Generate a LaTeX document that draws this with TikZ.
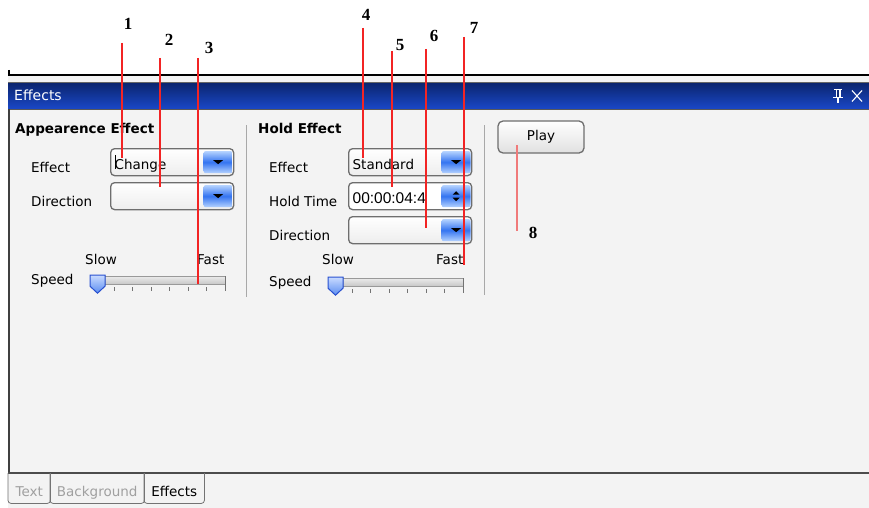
\documentclass[tikz,border=0pt]{standalone}
\usepackage{fontspec}
\setmainfont{DejaVu Sans}
\newfontfamily\callfont{Liberation Serif}
\newfontfamily\spinfont{Liberation Sans}
\usetikzlibrary{positioning,calc}

\definecolor{panelbg}{HTML}{F3F3F3}
\definecolor{barTop}{HTML}{0B2570}
\definecolor{barBot}{HTML}{1A48C8}
\definecolor{boxline}{HTML}{6E6E6E}
\definecolor{btnblue}{HTML}{3474F0}
\definecolor{btnlight}{HTML}{B4D2FF}
\definecolor{thumbTop}{HTML}{C8DAFF}
\definecolor{thumbBot}{HTML}{5A8CF0}
\definecolor{thumbLine}{HTML}{2850D0}
\definecolor{callred}{HTML}{F22424}
\definecolor{callpink}{HTML}{F07A7A}
\definecolor{tabgray}{HTML}{A0A0A0}
\definecolor{sepgray}{HTML}{A8A8A8}

\newcommand{\uifont}{\fontsize{13.5}{15}\selectfont}
\newcommand{\headfont}{\fontsize{13.5}{15}\selectfont\bfseries}
\newcommand{\numfont}{\callfont\fontsize{17}{19}\selectfont\bfseries}

% combo box with its drop button
\newcommand{\combo}[4]{
  \node[combobox] (#1) at (#2,#3) {#4};
  \node[dropbtn, left=1.5pt of #1.east] (#1btn) {};
  \fill ($(#1btn.center)+(-5,-2)$) -- ++(10,0) -- ++(-5,4) -- cycle;
}
% slider: track, ticks and thumb
\newcommand{\slider}[3]{
  \node[track] (#1) at (#2,#3) {};
  \foreach \k in {1,...,6}
    \draw[tick] ($(#1.south west)+(\k*18.5+3.5,3)$) -- ++(0,4);
  \draw[tick] (#1.north east) -- ++(0,15);
  \filldraw[thumb] ($(#1.west)+(-2,-5)$) -- ++(15,0) -- ++(0,11) -- ++(-7.5,7) -- ++(-7.5,-7) -- cycle;
}

\begin{document}
\begin{tikzpicture}[x=1pt,y=-1pt,
  ui/.style={font=\uifont, inner sep=0pt, anchor=base west},
  head/.style={font=\headfont, inner sep=0pt, anchor=base west},
  combobox/.style={draw=boxline, line width=1.3pt, rounded corners=4pt,
    top color=white, bottom color=black!7, anchor=north west,
    minimum height=27pt, text width=115pt, inner xsep=4pt, inner ysep=0pt,
    text height=15pt, text depth=1pt, align=left, font=\uifont},
  dropbtn/.style={rounded corners=2pt, minimum width=29pt, minimum height=22pt,
    top color=btnlight, bottom color=btnlight, middle color=btnblue, inner sep=0pt},
  track/.style={draw=black!40, top color=black!8, bottom color=black!22, anchor=north west,
    minimum width=133pt, minimum height=8pt, inner sep=0pt},
  tick/.style={draw=black!55, line width=0.8pt},
  thumb/.style={draw=thumbLine, line width=1pt, top color=thumbTop, bottom color=thumbBot},
  sep/.style={draw=sepgray, line width=1pt},
  tab/.style={anchor=north west, minimum height=30pt, inner sep=0pt, font=\uifont,
    text height=17pt, text depth=0pt},
  tabline/.style={draw=black!55, line width=0.8pt, rounded corners=3pt},
  callout/.style={draw=callred, line width=1.4pt},
  calllabel/.style={font=\numfont, inner sep=0pt}]

\useasboundingbox (0,0) rectangle (869,508);
\fill[white] (0,0) rectangle (869,508);

% window frame
\fill[panelbg] (8,76) rectangle (869,508);
\draw[line width=1.5pt] (9,70) -- (9,75) -- (869,75);
\draw[black!60, line width=1pt] (8,82.5) -- (869,82.5);
\node[anchor=north west, minimum width=861pt, minimum height=26pt, inner sep=0pt,
  top color=barTop, bottom color=barBot] (bar) at (8,83) {};
\node[font=\fontsize{14}{16}\selectfont, text=white, inner sep=0pt, anchor=base west] (title) at (14,101) {Effects};
\draw[black!65, line width=1.2pt] (8,109.5) -- (869,109.5);
\draw[black!75, line width=2pt] (9,109) -- (9,473);
\draw[black!70, line width=1.2pt] (8,473) -- (869,473);

% pin and close
\coordinate (pin) at (838,96);
\fill[white] ($(pin)+(-4,-7)$) rectangle ($(pin)+(4,-5.5)$);
\fill[white] ($(pin)+(-2.5,-5.5)$) rectangle ($(pin)+(2.5,1)$);
\fill[white] ($(pin)+(-5,1)$) rectangle ($(pin)+(5,2.5)$);
\fill[white] ($(pin)+(-0.8,2.5)$) rectangle ($(pin)+(0.8,7)$);
\fill[barBot!60!black] ($(pin)+(-1,-5.5)$) rectangle ($(pin)+(1,1)$);
\coordinate (close) at (857,96);
\draw[white, line width=1.1pt] ($(close)+(-5,-5.5)$) -- ($(close)+(5,5.5)$);
\draw[white, line width=1.1pt] ($(close)+(-5,5.5)$) -- ($(close)+(5,-5.5)$);

% appearence effect
\node[head] (appHead) at (15,133) {Appearence Effect};
\node[ui] (effLblA) at (31,172) {Effect};
\node[ui] (dirLblA) at (31,206) {Direction};
\combo{effA}{110}{148}{Change}
\draw[line width=0.7pt] ($(effA.west)+(5.5,-7)$) -- ++(0,14);
\combo{dirA}{110}{182}{}
\node[ui] (slowA) at (85,264) {Slow};
\node[ui] (fastA) at (197,264) {Fast};
\node[ui] (speedLblA) at (31,284) {Speed};
\slider{speedA}{92}{276}
\draw[sep] (246,125) -- (246,297);

% hold effect
\node[head] (holdHead) at (258,133) {Hold Effect};
\node[ui] (effLblB) at (269,172) {Effect};
\node[ui] (timeLbl) at (269,206) {Hold Time};
\node[ui] (dirLblB) at (269,240) {Direction};
\combo{effB}{348}{148}{Standard}
\node[combobox, top color=white, bottom color=white, font=\spinfont\fontsize{15.5}{17}\selectfont] (holdT) at (348,182) {00:00:04:4};
\node[dropbtn, left=1.5pt of holdT.east] (holdTbtn) {};
\fill ($(holdTbtn.center)+(-3.5,-1.5)$) -- ++(7,0) -- ++(-3.5,-3.5) -- cycle;
\fill ($(holdTbtn.center)+(-3.5,1.5)$) -- ++(7,0) -- ++(-3.5,3.5) -- cycle;
\combo{dirB}{348}{216}{}
\node[ui] (slowB) at (322,264) {Slow};
\node[ui] (fastB) at (436,264) {Fast};
\node[ui] (speedLblB) at (269,286) {Speed};
\slider{speedB}{330}{278}
\draw[sep] (484,125) -- (484,295);

% play
\node[draw=boxline, line width=1.3pt, rounded corners=5pt, top color=white, bottom color=black!12,
  minimum width=86pt, minimum height=32pt, inner sep=0pt, font=\uifont] (play) at (541,137) {Play};

% tabs
\node[tab, minimum width=42pt, text=tabgray] (tabText) at (8,473) {Text};
\node[tab, minimum width=94pt, text=tabgray] (tabBack) at (50,473) {Background};
\node[tab, minimum width=60pt] (tabEff) at (144,473) {Effects};
\foreach \t in {tabText,tabBack,tabEff}
  \draw[tabline] (\t.north west) |- (\t.south east) -- (\t.north east);

% callouts
\foreach \i/\lx/\ly/\cx/\ctop/\cbot in {1/128/24/122/43/158, 2/169/40/160/58/187,
    3/209/48/198/58/284, 4/366/15/363/28/158, 5/400/45/392/51/187,
    6/434/36/426/49/228, 7/474/28/464/37/265} {
  \node[calllabel] (n\i) at (\lx,\ly) {\i};
  \coordinate (t\i) at (\cx,\ctop);
  \coordinate (e\i) at (\cx,\cbot);
  \draw[callout] (t\i) -- (e\i);
}
\node[calllabel] (n8) at (533,233) {8};
\coordinate (t8) at (517,145);
\coordinate (e8) at (517,231);
\draw[callout, draw=callpink, line width=2pt] (t8) -- (e8);
\end{tikzpicture}
\end{document}
